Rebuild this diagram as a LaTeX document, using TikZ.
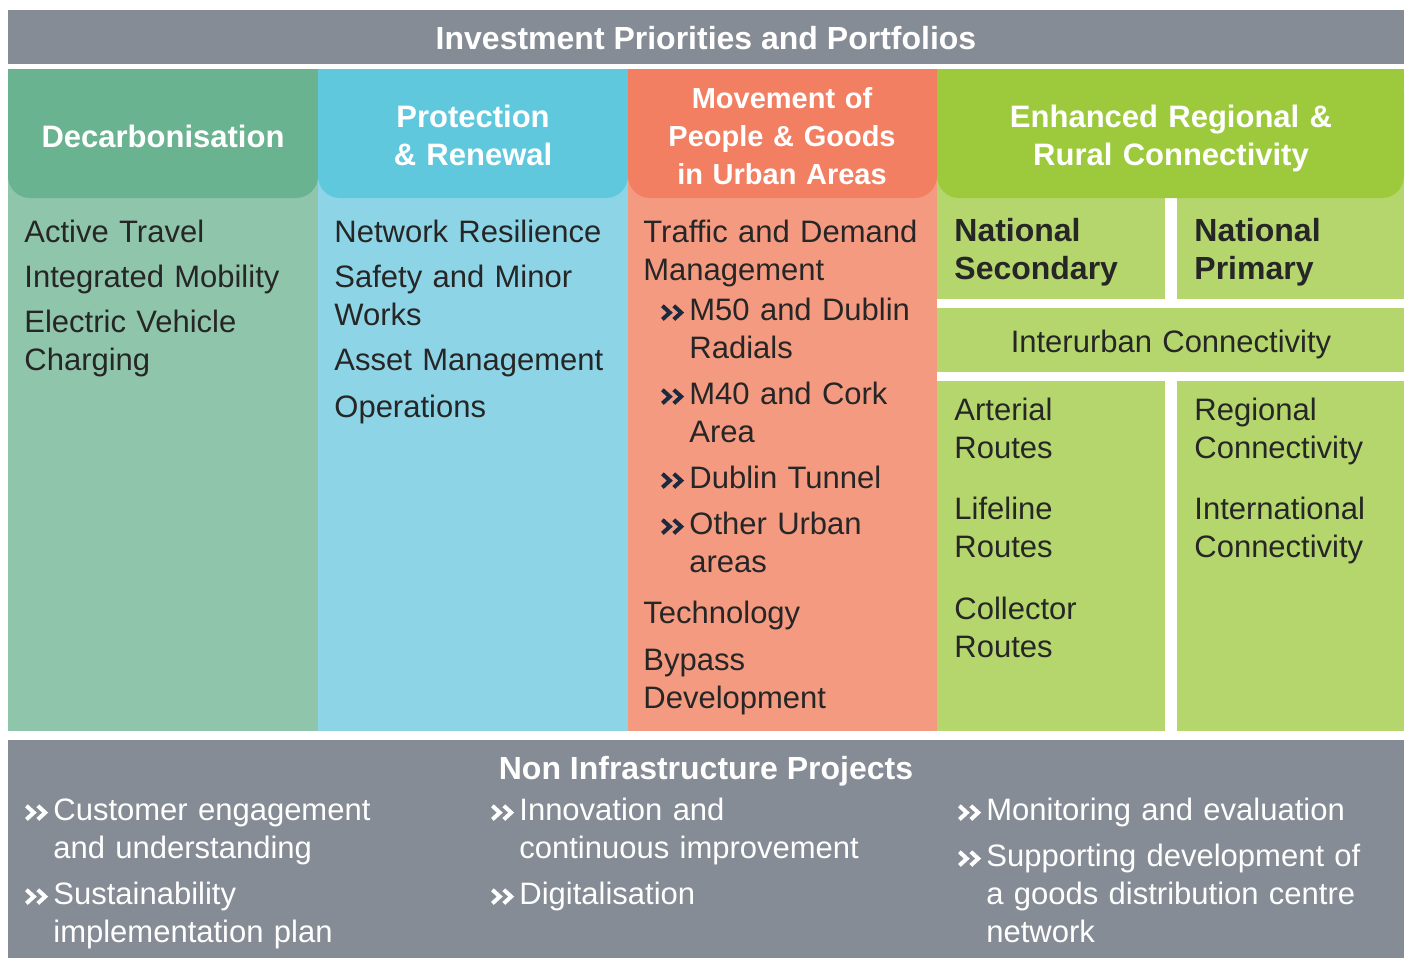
\documentclass[tikz,border=0pt]{standalone}
\usepackage{fontspec}
\setmainfont{Liberation Sans}
\usepackage{xcolor}
\usepackage{tikz}
\definecolor{bargray}{HTML}{868C95}
\definecolor{decoH}{HTML}{6AB391}
\definecolor{decoL}{HTML}{8FC5AB}
\definecolor{protH}{HTML}{5FC8DD}
\definecolor{protL}{HTML}{8DD4E6}
\definecolor{moveH}{HTML}{F27F62}
\definecolor{moveL}{HTML}{F49A80}
\definecolor{ruralH}{HTML}{9DCA3C}
\definecolor{ruralL}{HTML}{B5D66C}
\definecolor{ink}{HTML}{262626}
\definecolor{navy}{HTML}{1B2A3E}
\newcommand{\chev}[1][navy]{\tikz[baseline=0pt,line width=2pt]{\draw[#1] (0.3pt,0.3pt) -- (4pt,3.7pt) -- (0.3pt,7.1pt); \draw[#1] (6pt,0.3pt) -- (9.7pt,3.7pt) -- (6pt,7.1pt);}}
\newcommand{\bul}[1][navy]{\makebox[14.5pt][l]{\chev[#1]}}
\newcommand{\ind}{\hspace*{14.5pt}}

\tikzset{
  body/.style={anchor=base west, inner sep=0pt, text width=250pt, align=left,
    font=\fontsize{15.5}{19}\selectfont, text=ink},
  head/.style={anchor=base, inner sep=0pt, align=center,
    font=\fontsize{15.5}{19}\selectfont\bfseries, text=white},
  sub/.style={body, font=\fontsize{16}{19}\selectfont\bfseries},
  light/.style={body, text=white}
}

\begin{document}
\begin{tikzpicture}[x=0.5pt,y=-0.5pt]
  \useasboundingbox (0,0) rectangle (1410,958);

  % banners
  \fill[bargray] (8,10) rectangle (1404,64);
  \fill[bargray] (8,740) rectangle (1404,958);

  % column backgrounds
  \fill[decoL] (8,69) rectangle (318,731);
  \fill[protL] (318,69) rectangle (628,731);
  \fill[moveL] (628,69) rectangle (937,731);
  \fill[ruralL] (937,69) rectangle (1404,198);
  \fill[ruralL] (937,198) rectangle (1165,299);
  \fill[ruralL] (1177,198) rectangle (1404,299);
  \fill[ruralL] (937,308) rectangle (1404,372);
  \fill[ruralL] (937,381) rectangle (1165,731);
  \fill[ruralL] (1177,381) rectangle (1404,731);

  % column heads, round at the bottom only
  \foreach \xa/\xb/\c in {8/318/decoH, 318/628/protH, 628/937/moveH, 937/1404/ruralH} {
    \fill[\c, rounded corners=11pt] (\xa,69) rectangle (\xb,198);
    \fill[\c] (\xa,69) rectangle (\xb,150);
  }

  \node[head, font=\fontsize{16}{19}\selectfont\bfseries] (title) at (706,49) {Investment Priorities and Portfolios};
  \node[head, text width=150pt] (decoHead) at (163,147) {Decarbonisation};
  \node[head, text width=150pt] (protHead) at (473,127) {Protection\\\& Renewal};
  \node[head, text width=150pt, font=\fontsize{14.5}{19}\selectfont\bfseries] (moveHead) at (782,108) {Movement of\\People \& Goods\\in Urban Areas};
  \node[head, text width=225pt] (ruralHead) at (1171,127) {Enhanced Regional \&\\Rural Connectivity};

  % Decarbonisation
  \node[body] (activeTravel) at (24,242) {Active Travel};
  \node[body] (intMobility) at (24,287) {Integrated Mobility};
  \node[body] (evCharging) at (24,332) {Electric Vehicle\\Charging};

  % Protection & Renewal
  \node[body] (netResilience) at (334,242) {Network Resilience};
  \node[body] (safetyWorks) at (334,287) {Safety and Minor\\Works};
  \node[body] (assetMgmt) at (334,370) {Asset Management};
  \node[body] (operations) at (334,417) {Operations};

  % Movement of People & Goods
  \node[body] (trafficDemand) at (643,242) {Traffic and Demand\\Management};
  \node[body] (m50) at (660,320) {\bul M50 and Dublin\\\ind Radials};
  \node[body] (m40) at (660,404) {\bul M40 and Cork\\\ind Area};
  \node[body] (dublinTunnel) at (660,488) {\bul Dublin Tunnel};
  \node[body] (otherUrban) at (660,534) {\bul Other Urban\\\ind areas};
  \node[body] (technology) at (643,623) {Technology};
  \node[body] (bypass) at (643,670) {Bypass\\Development};

  % Regional & Rural
  \node[sub] (natSecondary) at (954,241) {National\\Secondary};
  \node[sub] (natPrimary) at (1194,241) {National\\Primary};
  \node[body, anchor=base, align=center] (interurban) at (1171,352) {Interurban Connectivity};
  \node[body] (arterial) at (954,420) {Arterial\\Routes};
  \node[body] (lifeline) at (954,519) {Lifeline\\Routes};
  \node[body] (collector) at (954,619) {Collector\\Routes};
  \node[body] (regional) at (1194,420) {Regional\\Connectivity};
  \node[body] (international) at (1194,519) {International\\Connectivity};

  % Non infrastructure
  \node[head, font=\fontsize{16}{19}\selectfont\bfseries] (nonInfra) at (706,779) {Non Infrastructure Projects};
  \node[light] (customer) at (24,820) {\bul[white]Customer engagement\\\ind and understanding};
  \node[light] (sustain) at (24,904) {\bul[white]Sustainability\\\ind implementation plan};
  \node[light] (innovation) at (490,820) {\bul[white]Innovation and\\\ind continuous improvement};
  \node[light] (digital) at (490,904) {\bul[white]Digitalisation};
  \node[light, text width=215pt] (monitoring) at (957,820) {\bul[white]Monitoring and evaluation};
  \node[light, text width=215pt] (goodsCentre) at (957,866) {\bul[white]Supporting development of\\\ind a goods distribution centre\\\ind network};
\end{tikzpicture}
\end{document}
